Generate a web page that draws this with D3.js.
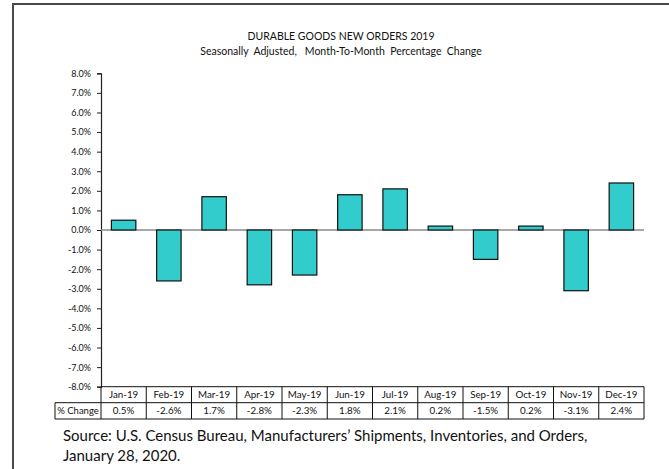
<html>
<head>
    <script src="https://cdn.jsdelivr.net/npm/d3@7"></script>
    <style>
        body { margin: 0; background: white; font-family: Lato, "Open Sans", sans-serif; }
        svg { display: block; }
    </style>
</head>
<body>
    <svg id="chart"></svg>
<script>
    // values
    let months = ["Jan-19", "Feb-19", "Mar-19", "Apr-19", "May-19", "Jun-19",
                  "Jul-19", "Aug-19", "Sep-19", "Oct-19", "Nov-19", "Dec-19"];
    let pctChange = [0.5, -2.6, 1.7, -2.8, -2.3, 1.8, 2.1, 0.2, -1.5, 0.2, -3.1, 2.4];
    let yTicks = [-8, -7, -6, -5, -4, -3, -2, -1, 0, 1, 2, 3, 4, 5, 6, 7, 8];
    let titleLines = ["DURABLE GOODS NEW ORDERS 2019",
                      "Seasonally  Adjusted,   Month-To-Month  Percentage  Change"];
    let sourceLines = ["Source: U.S. Census Bureau, Manufacturers\u2019 Shipments, Inventories, and Orders,",
                       "January 28, 2020."];
    let rowLabel = "% Change";

    function getConfig() {
        let width = 669;
        let height = 469;
        let container = d3.select("#chart")
            .attr("width", width)
            .attr("height", height);
        let plot = {left: 101, right: 644, top: 73.3, bottom: 386.7};
        return {width, height, container, plot};
    }

    function drawChart() {
        let config = getConfig();
        let {container, plot} = config;

        // frame (only top and left edges show in the crop)
        container.append("path")
            .attr("d", "M13,469 V4 H669")
            .attr("fill", "none")
            .attr("stroke", "#4a4a4a")
            .attr("stroke-width", 2);

        // titles
        container.selectAll(".title")
            .data(titleLines)
            .enter().append("text")
            .attr("class", "title")
            .attr("x", 341)
            .attr("y", (d, i) => 40 + i * 15)
            .attr("text-anchor", "middle")
            .style("font-size", "10.5px")
            .style("white-space", "pre")
            .attr("fill", "#111")
            .text(d => d);

        let x = d3.scaleBand()
            .domain(months)
            .range([plot.left, plot.right])
            .padding(0);

        let y = d3.scaleLinear()
            .domain([-8, 8])
            .range([plot.bottom, plot.top]);

        let yAxis = d3.axisLeft(y)
            .tickValues(yTicks)
            .tickSize(4)
            .tickPadding(6)
            .tickFormat(d => d.toFixed(1) + "%");

        let gy = container.append("g")
            .attr("transform", "translate(" + plot.left + ",0)")
            .call(yAxis);
        gy.select(".domain").attr("stroke", "#222").attr("stroke-width", 1.2);
        gy.selectAll(".tick line").attr("stroke", "#222");
        gy.selectAll(".tick text")
            .style("font-size", "9px")
            .style("font-family", "Lato, sans-serif")
            .attr("fill", "#111");

        // zero line
        container.append("line")
            .attr("x1", plot.left)
            .attr("x2", plot.right)
            .attr("y1", y(0))
            .attr("y2", y(0))
            .attr("stroke", "#8a8a8a")
            .attr("stroke-width", 1.5);

        // bars
        let barW = x.bandwidth() * 0.54;
        container.selectAll(".bar")
            .data(pctChange)
            .enter().append("rect")
            .attr("class", "bar")
            .attr("x", (d, i) => x(months[i]) + (x.bandwidth() - barW) / 2)
            .attr("y", d => y(Math.max(0, d)))
            .attr("width", barW)
            .attr("height", d => Math.abs(y(d) - y(0)))
            .attr("fill", "#33cccc")
            .attr("stroke", "#111")
            .attr("stroke-width", 1.2);

        // data table under the chart
        let row1Top = plot.bottom, row2Top = 402.7, row2Bottom = 419;
        let labelLeft = 55;
        let t = container.append("g").attr("class", "table");

        t.append("line").attr("x1", plot.left).attr("x2", plot.right)
            .attr("y1", row1Top).attr("y2", row1Top);
        t.append("line").attr("x1", labelLeft).attr("x2", plot.right)
            .attr("y1", row2Top).attr("y2", row2Top);
        t.append("line").attr("x1", labelLeft).attr("x2", plot.right)
            .attr("y1", row2Bottom).attr("y2", row2Bottom);
        t.append("line").attr("x1", labelLeft).attr("x2", labelLeft)
            .attr("y1", row2Top).attr("y2", row2Bottom);

        let edges = months.map(m => x(m)).concat([plot.right]);
        t.selectAll(".vline")
            .data(edges)
            .enter().append("line")
            .attr("class", "vline")
            .attr("x1", d => d).attr("x2", d => d)
            .attr("y1", row1Top).attr("y2", row2Bottom);
        t.selectAll("line").attr("stroke", "#111").attr("stroke-width", 1);

        t.selectAll(".month")
            .data(months)
            .enter().append("text")
            .attr("class", "month")
            .attr("x", d => x(d) + x.bandwidth() / 2)
            .attr("y", (row1Top + row2Top) / 2 + 3.4)
            .attr("text-anchor", "middle")
            .style("font-size", "9.8px")
            .attr("fill", "#111")
            .text(d => d);

        t.selectAll(".val")
            .data(pctChange)
            .enter().append("text")
            .attr("class", "val")
            .attr("x", (d, i) => x(months[i]) + x.bandwidth() / 2)
            .attr("y", (row2Top + row2Bottom) / 2 + 3.4)
            .attr("text-anchor", "middle")
            .style("font-size", "9.8px")
            .attr("fill", "#111")
            .text(d => d.toFixed(1) + "%");

        t.append("text")
            .attr("x", (labelLeft + plot.left) / 2)
            .attr("y", (row2Top + row2Bottom) / 2 + 3.4)
            .attr("text-anchor", "middle")
            .style("font-size", "9.5px")
            .attr("fill", "#111")
            .text(rowLabel);

        // source note
        container.selectAll(".source")
            .data(sourceLines)
            .enter().append("text")
            .attr("class", "source")
            .attr("x", 63)
            .attr("y", (d, i) => 441 + i * 19.5)
            .style("font-size", "15px")
            .attr("fill", "#111")
            .text(d => d);
    }

    drawChart();
</script>
</body>
</html>
